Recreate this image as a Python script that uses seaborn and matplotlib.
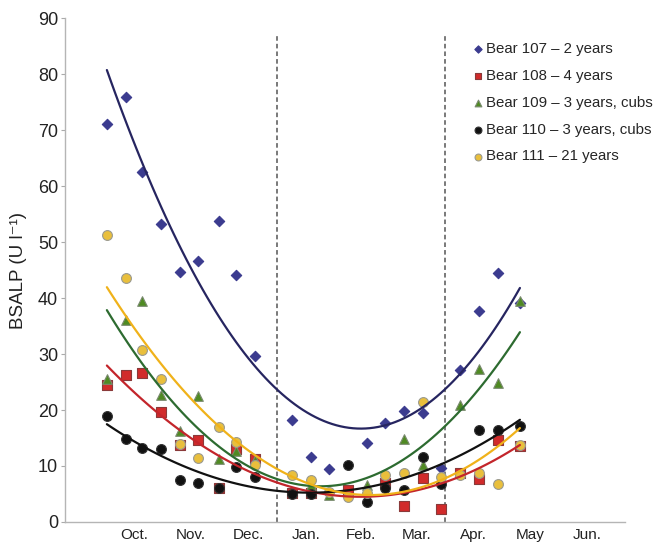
import numpy as np
import pandas as pd
import matplotlib
matplotlib.use("Agg")
import matplotlib.pyplot as plt
import seaborn as sns

# day 0 = 1 October; sampling roughly every 10 days
days_107 = [1, 11, 20, 30, 40, 50, 61, 70, 80, 100, 110, 120, 140, 150, 160, 170, 180, 190, 200, 210, 222]
bsalp_107 = [71.1, 75.9, 62.6, 53.3, 44.6, 46.7, 53.8, 44.1, 29.6, 18.3, 11.6, 9.5, 14.1, 17.7, 19.8, 19.4, 9.6, 27.1, 37.7, 44.4, 39.2]

days_108 = [1, 11, 20, 30, 40, 50, 61, 70, 80, 100, 110, 130, 150, 160, 170, 180, 190, 200, 210, 222]
bsalp_108 = [24.4, 26.2, 26.6, 19.6, 13.7, 14.6, 6.0, 13.0, 11.3, 5.2, 5.2, 5.7, 6.9, 2.9, 7.8, 2.4, 8.8, 7.6, 14.7, 13.6]

days_109 = [1, 11, 20, 30, 40, 50, 61, 70, 80, 110, 120, 140, 160, 170, 180, 190, 200, 210, 222]
bsalp_109 = [25.6, 36.1, 39.5, 22.7, 16.3, 22.5, 11.3, 12.6, 11.0, 6.6, 4.8, 6.6, 14.8, 10.1, 8.0, 20.9, 27.3, 24.8, 39.5]

days_110 = [1, 11, 20, 30, 40, 50, 61, 70, 80, 100, 110, 130, 140, 150, 160, 170, 180, 200, 210, 222]
bsalp_110 = [19.0, 14.8, 13.2, 13.1, 7.5, 7.0, 6.0, 9.8, 8.1, 5.0, 5.0, 10.1, 3.6, 6.0, 5.7, 11.6, 6.7, 16.4, 16.4, 17.1]

days_111 = [1, 11, 20, 30, 40, 50, 61, 70, 80, 100, 110, 120, 130, 140, 150, 160, 170, 180, 190, 200, 210, 222]
bsalp_111 = [51.3, 43.5, 30.8, 25.5, 14.0, 11.5, 17.0, 14.2, 10.1, 8.4, 7.5, 5.4, 4.5, 5.2, 8.4, 8.7, 21.5, 8.1, 8.4, 8.7, 6.7, 13.7]

labels = ['Bear 107 – 2 years', 'Bear 108 – 4 years', 'Bear 109 – 3 years, cubs',
          'Bear 110 – 3 years, cubs', 'Bear 111 – 21 years']

month_starts = [0, 31, 61, 92, 123, 151, 182, 212, 243, 273]
month_names = ['Oct.', 'Nov.', 'Dec.', 'Jan.', 'Feb.', 'Mar.', 'Apr.', 'May', 'Jun.']
hibernation = [92, 182]

styles = [
    dict(marker='D', s=28, color='#3b3b8f', edgecolor='#3b3b8f', line='#262560'),
    dict(marker='s', s=42, color='#d12b2b', edgecolor='#8a3a3a', line='#c3252b'),
    dict(marker='^', s=48, color='#4f8a22', edgecolor='#7a8a70', line='#2d6b30'),
    dict(marker='o', s=50, color='#111111', edgecolor='#333333', line='#111111'),
    dict(marker='o', s=50, color='#e9bf3c', edgecolor='#9a9a90', line='#f0b21a'),
]

series = [(days_107, bsalp_107), (days_108, bsalp_108), (days_109, bsalp_109),
          (days_110, bsalp_110), (days_111, bsalp_111)]

sns.set_style('white')
plt.rcParams['font.family'] = ['Liberation Sans', 'DejaVu Sans']

fig = plt.figure(figsize=(6.6, 5.44), dpi=100)
ax = fig.add_axes([0.0985, 0.0405, 0.849, 0.926])

for (d, v), lab, st in zip(series, labels, styles):
    df = pd.DataFrame({'day': d, 'bsalp': v})
    sns.scatterplot(data=df, x='day', y='bsalp', marker=st['marker'], s=st['s'],
                    color=st['color'], edgecolor=st['edgecolor'], linewidth=0.8,
                    label=lab, ax=ax, zorder=3)

# second-order trend line per bear
for (d, v), st in zip(series, styles):
    df = pd.DataFrame({'day': d, 'bsalp': v})
    sns.regplot(data=df, x='day', y='bsalp', order=2, ci=None, scatter=False,
                truncate=True, line_kws=dict(color=st['line'], lw=1.6, zorder=4), ax=ax)

for h in hibernation:
    ax.plot([h, h], [0, 87], color='#555555', lw=1.1, ls=(0, (3, 2)), zorder=2)

ax.set_xlim(-21.4, 278.4)
ax.set_ylim(0, 90)
ax.set_yticks(range(0, 91, 10))
ax.set_xticks(month_starts)
ax.set_xticklabels([])
mids = [(a + b) / 2 for a, b in zip(month_starts[:-1], month_starts[1:])]
ax.set_xticks(mids, minor=True)
ax.set_xticklabels(month_names, minor=True)
ax.tick_params(axis='x', which='major', direction='inout', length=9, width=1, color='#777777')
ax.tick_params(axis='x', which='minor', length=0, labelsize=11, pad=4.5, labelcolor='#222222')
ax.tick_params(axis='y', direction='out', length=3, width=0.8, color='#aaaaaa',
               labelsize=13, labelcolor='#222222', pad=2, left=True)

for side in ['top', 'right']:
    ax.spines[side].set_visible(False)
for side in ['left', 'bottom']:
    ax.spines[side].set_color('#b5b5b5')
    ax.spines[side].set_linewidth(1.0)

ax.set_xlabel('')
ax.set_ylabel('BSALP (U l⁻¹)', fontsize=13.5, color='#222222', labelpad=8)

leg = ax.legend(loc='upper left', bbox_to_anchor=(0.713, 0.965), frameon=False,
                fontsize=10.8, handletextpad=0.05, labelspacing=0.86, borderaxespad=0,
                markerscale=0.7, handlelength=1.0)

fig.savefig('out.png', dpi=100)
